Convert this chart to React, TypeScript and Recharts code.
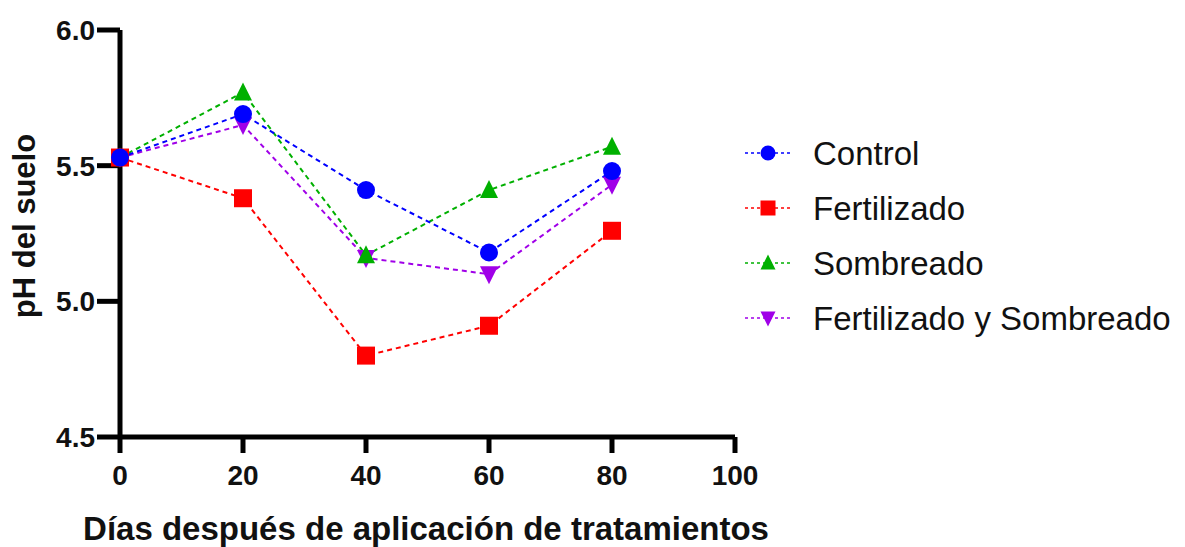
import { LineChart, Line, XAxis, YAxis, Legend, ReferenceLine } from 'recharts';

const days = [0, 20, 40, 60, 80];
const control = [5.53, 5.69, 5.41, 5.18, 5.48];
const fertilizado = [5.53, 5.38, 4.8, 4.91, 5.26];
const sombreado = [5.53, 5.77, 5.17, 5.41, 5.57];
const fertSomb = [5.53, 5.65, 5.16, 5.1, 5.43];

const xTicks = [0, 20, 40, 60, 80, 100];
const yTicks = [4.5, 5.0, 5.5, 6.0];

type Shape = 'circle' | 'square' | 'up' | 'down';

const series: { key: string; name: string; color: string; shape: Shape; values: number[] }[] = [
  { key: 'control', name: 'Control', color: '#0000ff', shape: 'circle', values: control },
  { key: 'fert', name: 'Fertilizado', color: '#ff0000', shape: 'square', values: fertilizado },
  { key: 'somb', name: 'Sombreado', color: '#00b000', shape: 'up', values: sombreado },
  { key: 'fertSomb', name: 'Fertilizado y Sombreado', color: '#a000e8', shape: 'down', values: fertSomb },
];

const data = days.map((d, i) => {
  const row: Record<string, number> = { dia: d };
  series.forEach((s) => {
    row[s.key] = s.values[i];
  });
  return row;
});

const FONT = '"Liberation Sans", Arial, sans-serif';

function Marker({ shape, cx, cy, color, size }: { shape: Shape; cx: number; cy: number; color: string; size: number }) {
  const h = size / 2;
  if (shape === 'circle') return <circle cx={cx} cy={cy} r={h} fill={color} />;
  if (shape === 'square') return <rect x={cx - h} y={cy - h} width={size} height={size} fill={color} />;
  if (shape === 'up')
    return <polygon points={`${cx},${cy - h - 1} ${cx + h},${cy + h - 1} ${cx - h},${cy + h - 1}`} fill={color} />;
  return <polygon points={`${cx},${cy + h + 1} ${cx + h},${cy - h + 1} ${cx - h},${cy - h + 1}`} fill={color} />;
}

function LegendBox() {
  return (
    <svg width={440} height={240} style={{ overflow: 'visible' }}>
      {series.map((s, i) => {
        const y = 45 + i * 55;
        return (
          <g key={s.key}>
            <line x1={0} x2={45} y1={y} y2={y} stroke={s.color} strokeWidth={1.5} strokeDasharray="3 3" />
            <Marker shape={s.shape} cx={23} cy={y} color={s.color} size={15} />
            <text x={68} y={y} dominantBaseline="central" fontFamily={FONT} fontSize={33} fill="#111">
              {s.name}
            </text>
          </g>
        );
      })}
    </svg>
  );
}

const tickStyle = { fontSize: 28, fontWeight: 700, fill: '#111', fontFamily: FONT };

export default function App() {
  return (
    <LineChart width={1177} height={539} data={data} margin={{ top: 22, right: 450, bottom: 0, left: 0 }}>
      <XAxis
        dataKey="dia"
        type="number"
        domain={[0, 100]}
        ticks={xTicks}
        height={110}
        tickSize={16}
        tickMargin={12}
        tick={tickStyle}
        axisLine={{ stroke: '#000', strokeWidth: 5 }}
        tickLine={{ stroke: '#000', strokeWidth: 5 }}
        label={() => (
          <text x={418} y={532} textAnchor="middle" fontFamily={FONT} fontSize={33} fontWeight={700} fill="#111">
            Días después de aplicación de tratamientos
          </text>
        )}
      />
      <YAxis
        type="number"
        domain={[4.5, 6.0]}
        ticks={yTicks}
        width={112}
        tickSize={23}
        tickMargin={2}
        tick={tickStyle}
        tickFormatter={(v) => Number(v).toFixed(1)}
        axisLine={{ stroke: '#000', strokeWidth: 5 }}
        tickLine={{ stroke: '#000', strokeWidth: 5 }}
        label={() => (
          <text
            x={27}
            y={218}
            transform="rotate(-90 27 218)"
            textAnchor="middle"
            fontFamily={FONT}
            fontSize={31}
            fontWeight={700}
            fill="#111"
          >
            pH del suelo
          </text>
        )}
      />
      <ReferenceLine
        segment={[
          { x: days[0], y: 4.5 },
          { x: days[0], y: control[0] },
        ]}
        stroke="#0000ff"
        strokeWidth={1.5}
        strokeDasharray="4 3"
      />
      {[...series].reverse().map((s) => (
        <Line
          key={s.key}
          dataKey={s.key}
          name={s.name}
          type="linear"
          stroke={s.color}
          strokeWidth={2}
          strokeDasharray="5 4"
          isAnimationActive={false}
          dot={(p: any) => (
            <Marker key={`${s.key}-${p.index}`} shape={s.shape} cx={p.cx} cy={p.cy} color={s.color} size={18} />
          )}
        />
      ))}
      <Legend
        layout="horizontal"
        verticalAlign="middle"
        align="center"
        width={440}
        height={240}
        wrapperStyle={{ left: 737, top: 100 }}
        content={() => <LegendBox />}
      />
    </LineChart>
  );
}
